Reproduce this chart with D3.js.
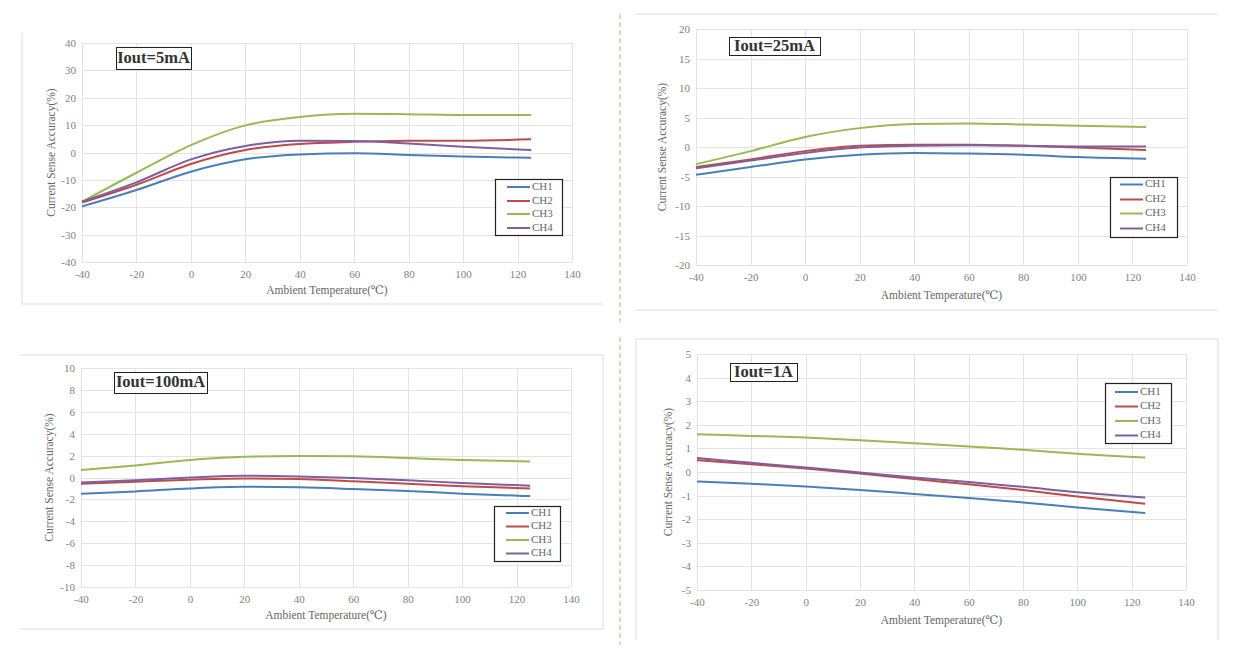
<!DOCTYPE html>
<html>
<head>
<meta charset="utf-8">
<script src="https://cdn.jsdelivr.net/npm/d3@7"></script>
<style>
  html, body { margin: 0; padding: 0; background: #ffffff; }
  svg { display: block; }
</style>
</head>
<body>
<svg id="chart" width="1241" height="670"></svg>
<script>
// ---------- DATA ----------
const temps = [-40, -20, 0, 20, 40, 60, 80, 100, 125];
const channels = ["CH1", "CH2", "CH3", "CH4"];
const channelColors = ["#4a7ebb", "#be4b48", "#98b954", "#7d60a0"];
const xTicks = [-40, -20, 0, 20, 40, 60, 80, 100, 120, 140];
const panelTitles = ["Iout=5mA", "Iout=25mA", "Iout=100mA", "Iout=1A"];
const yTicks5mA = [-40, -30, -20, -10, 0, 10, 20, 30, 40];
const yTicks25mA = [-20, -15, -10, -5, 0, 5, 10, 15, 20];
const yTicks100mA = [-10, -8, -6, -4, -2, 0, 2, 4, 6, 8, 10];
const yTicks1A = [-5, -4, -3, -2, -1, 0, 1, 2, 3, 4, 5];

// Iout = 5mA
const ch1_5mA = [-19.7, -13.7, -7.0, -2.5, -0.7, -0.3, -0.9, -1.5, -1.9];
const ch2_5mA = [-18.3, -11.8, -4.2, 0.9, 3.1, 3.9, 4.3, 4.3, 4.8];
const ch3_5mA = [-18.0, -7.4, 2.7, 9.9, 13.0, 14.2, 14.0, 13.7, 13.7];
const ch4_5mA = [-17.9, -10.9, -2.5, 2.4, 4.3, 4.2, 3.3, 2.1, 0.9];
// Iout = 25mA
const ch1_25mA = [-4.7, -3.4, -2.1, -1.3, -1.0, -1.1, -1.3, -1.7, -2.0];
const ch2_25mA = [-3.4, -2.1, -0.7, 0.2, 0.4, 0.4, 0.2, -0.1, -0.5];
const ch3_25mA = [-2.9, -0.7, 1.7, 3.2, 3.9, 4.0, 3.8, 3.6, 3.4];
const ch4_25mA = [-3.6, -2.3, -1.0, -0.1, 0.2, 0.3, 0.2, 0.1, 0.1];
// Iout = 100mA
const ch1_100mA = [-1.48, -1.27, -1.0, -0.85, -0.9, -1.05, -1.23, -1.48, -1.7];
const ch2_100mA = [-0.57, -0.38, -0.2, -0.08, -0.14, -0.35, -0.57, -0.8, -1.0];
const ch3_100mA = [0.68, 1.1, 1.6, 1.9, 1.96, 1.93, 1.78, 1.6, 1.47];
const ch4_100mA = [-0.45, -0.26, 0.0, 0.17, 0.1, -0.05, -0.26, -0.5, -0.75];
// Iout = 1A
const ch1_1A = [-0.4, -0.5, -0.61, -0.76, -0.93, -1.1, -1.29, -1.5, -1.74];
const ch2_1A = [0.5, 0.33, 0.15, -0.06, -0.3, -0.52, -0.76, -1.04, -1.35];
const ch3_1A = [1.6, 1.53, 1.46, 1.35, 1.22, 1.08, 0.94, 0.77, 0.61];
const ch4_1A = [0.59, 0.39, 0.19, -0.02, -0.23, -0.42, -0.63, -0.86, -1.08];

// ---------- LAYOUT ----------
const panels = [
  { title: panelTitles[0], series: [ch1_5mA, ch2_5mA, ch3_5mA, ch4_5mA], yTicks: yTicks5mA,
    plot: { l: 82, r: 572, t: 43, b: 262 },
    titleBox: { x: 116, y: 47, w: 75, h: 22 },
    legend: { x: 495, y: 179, w: 67, h: 56, lx: 507, rowY: [187, 201, 214, 228] },
    yTitleX: 52, xTitleY: 291,
    frame: [[22, 33, 22, 304], [22, 304, 603, 304]] },
  { title: panelTitles[1], series: [ch1_25mA, ch2_25mA, ch3_25mA, ch4_25mA], yTicks: yTicks25mA,
    plot: { l: 696, r: 1187, t: 29, b: 265 },
    titleBox: { x: 729, y: 37, w: 91, h: 18 },
    legend: { x: 1110, y: 177, w: 67, h: 60, lx: 1120, rowY: [184.5, 199.5, 213.5, 228.5] },
    yTitleX: 663, xTitleY: 296,
    frame: [[635, 14, 1218, 14], [635, 310, 1218, 310]] },
  { title: panelTitles[2], series: [ch1_100mA, ch2_100mA, ch3_100mA, ch4_100mA], yTicks: yTicks100mA,
    plot: { l: 81, r: 571, t: 368, b: 587 },
    titleBox: { x: 114, y: 372, w: 93, h: 21 },
    legend: { x: 494, y: 506, w: 66, h: 55, lx: 506, rowY: [513, 526.5, 540, 553.5] },
    yTitleX: 50, xTitleY: 616,
    frame: [[20, 355, 603, 355], [603, 355, 603, 629], [20, 629, 603, 629]] },
  { title: panelTitles[3], series: [ch1_1A, ch2_1A, ch3_1A, ch4_1A], yTicks: yTicks1A,
    plot: { l: 697, r: 1186, t: 354, b: 590 },
    titleBox: { x: 730, y: 363, w: 67, h: 18 },
    legend: { x: 1105, y: 383, w: 66, h: 60, lx: 1115, rowY: [392, 406.5, 421, 435.5] },
    yTitleX: 669, xTitleY: 621,
    frame: [[636, 339, 1218, 339], [636, 339, 636, 640], [1218, 339, 1218, 640]] }
];

const svg = d3.select("#chart");
const serif = "'Liberation Serif', 'DejaVu Serif', serif";

// dashed green separator
svg.append("line").attr("x1", 620).attr("x2", 620).attr("y1", 14).attr("y2", 322)
  .attr("stroke", "#cfe3bf").attr("stroke-width", 2).attr("stroke-dasharray", "5,3");
svg.append("line").attr("x1", 620).attr("x2", 620).attr("y1", 337).attr("y2", 645)
  .attr("stroke", "#cfe3bf").attr("stroke-width", 2).attr("stroke-dasharray", "5,3");

panels.forEach(p => {
  const g = svg.append("g");
  // frame lines
  p.frame.forEach(f => {
    g.append("line").attr("x1", f[0]).attr("y1", f[1]).attr("x2", f[2]).attr("y2", f[3])
      .attr("stroke", "#dcdcdc").attr("stroke-width", 1);
  });

  const yMin = d3.min(p.yTicks), yMax = d3.max(p.yTicks);
  const x = d3.scaleLinear().domain([-40, 140]).range([p.plot.l, p.plot.r]);
  const y = d3.scaleLinear().domain([yMin, yMax]).range([p.plot.b, p.plot.t]);

  // gridlines
  g.append("g").selectAll("line").data(xTicks).join("line")
    .attr("x1", d => Math.round(x(d)) + 0.5).attr("x2", d => Math.round(x(d)) + 0.5)
    .attr("y1", p.plot.t).attr("y2", p.plot.b)
    .attr("stroke", "#e3e3e3").attr("stroke-width", 1);
  g.append("g").selectAll("line").data(p.yTicks).join("line")
    .attr("x1", p.plot.l).attr("x2", p.plot.r)
    .attr("y1", d => Math.round(y(d)) + 0.5).attr("y2", d => Math.round(y(d)) + 0.5)
    .attr("stroke", "#e3e3e3").attr("stroke-width", 1);

  // axes (labels only)
  const fmt = d => String(d);
  const xAxis = g.append("g").attr("transform", `translate(0,${p.plot.b})`)
    .call(d3.axisBottom(x).tickValues(xTicks).tickSize(0).tickPadding(8).tickFormat(fmt));
  const yAxis = g.append("g").attr("transform", `translate(${p.plot.l},0)`)
    .call(d3.axisLeft(y).tickValues(p.yTicks).tickSize(0).tickPadding(6).tickFormat(fmt));
  [xAxis, yAxis].forEach(a => {
    a.select(".domain").remove();
    a.selectAll("text").attr("font-family", serif).attr("font-size", 11).attr("fill", "#7f7f7f");
  });

  // axis titles
  g.append("text").attr("x", (p.plot.l + p.plot.r) / 2).attr("y", p.xTitleY)
    .attr("text-anchor", "middle").attr("dominant-baseline", "middle")
    .attr("font-family", serif).attr("font-size", 11.5).attr("fill", "#666")
    .text("Ambient Temperature(℃)");
  g.append("text")
    .attr("transform", `translate(${p.yTitleX},${(p.plot.t + p.plot.b) / 2}) rotate(-90)`)
    .attr("text-anchor", "middle").attr("dominant-baseline", "middle")
    .attr("font-family", serif).attr("font-size", 11.5).attr("fill", "#666")
    .text("Current Sense Accuracy(%)");

  // lines
  const line = d3.line().x((d, i) => x(temps[i])).y(d => y(d)).curve(d3.curveMonotoneX);
  p.series.forEach((s, i) => {
    g.append("path").datum(s).attr("d", line).attr("fill", "none")
      .attr("stroke", channelColors[i]).attr("stroke-width", 2);
  });

  // title box
  g.append("rect").attr("x", p.titleBox.x + 0.5).attr("y", p.titleBox.y + 0.5)
    .attr("width", p.titleBox.w).attr("height", p.titleBox.h)
    .attr("fill", "#fff").attr("stroke", "#222").attr("stroke-width", 1);
  g.append("text").attr("x", p.titleBox.x + p.titleBox.w / 2).attr("y", p.titleBox.y + p.titleBox.h / 2 + 1)
    .attr("text-anchor", "middle").attr("dominant-baseline", "middle")
    .attr("font-family", serif).attr("font-weight", "bold").attr("font-size", 16.5).attr("fill", "#333")
    .text(p.title);

  // legend
  const L = p.legend;
  g.append("rect").attr("x", L.x + 0.5).attr("y", L.y + 0.5).attr("width", L.w).attr("height", L.h)
    .attr("fill", "#fff").attr("stroke", "#222").attr("stroke-width", 1.2);
  channels.forEach((c, i) => {
    g.append("line").attr("x1", L.lx).attr("x2", L.lx + 23).attr("y1", L.rowY[i]).attr("y2", L.rowY[i])
      .attr("stroke", channelColors[i]).attr("stroke-width", 2);
    g.append("text").attr("x", L.lx + 25).attr("y", L.rowY[i]).attr("dominant-baseline", "middle")
      .attr("font-family", serif).attr("font-size", 11).attr("fill", "#666").text(c);
  });
});
</script>
</body>
</html>
